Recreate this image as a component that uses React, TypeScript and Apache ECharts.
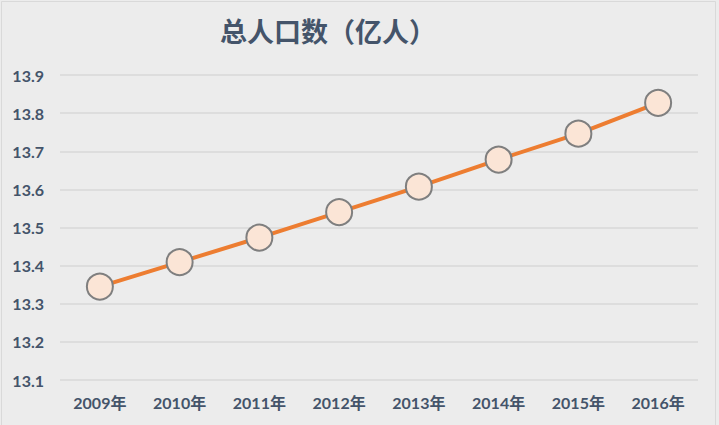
import React, { useEffect, useRef } from "react";
import * as echarts from "echarts";

const years = ["2009年", "2010年", "2011年", "2012年", "2013年", "2014年", "2015年", "2016年"];
const population = [13.345, 13.4091, 13.4735, 13.5404, 13.6072, 13.6782, 13.7462, 13.8271];
const titleText = "总人口数（亿人）";

export default function App() {
  const ref = useRef<HTMLDivElement>(null);
  useEffect(() => {
    if (!ref.current) return;
    const chart = echarts.init(ref.current, null, { renderer: "svg" });
    const labelColor = "#44546a";
    chart.setOption({
      animation: false,
      backgroundColor: "#ececec",
      title: {
        text: titleText,
        left: 215,
        top: 13,
        textStyle: {
          fontFamily: "Lato, 'Noto Sans CJK SC', sans-serif",
          fontSize: 27,
          fontWeight: "bold",
          color: labelColor,
        },
      },
      graphic: [
        {
          type: "rect",
          shape: { x: 1.5, y: 1.5, width: 714, height: 430 },
          style: { fill: "none", stroke: "#d9d9d9", lineWidth: 1 },
          silent: true,
        },
      ],
      grid: { left: 60, right: 21, top: 75, bottom: 45, containLabel: false },
      xAxis: {
        type: "category",
        data: years,
        boundaryGap: true,
        axisLine: { show: false },
        axisTick: { show: false },
        axisLabel: {
          color: labelColor,
          fontFamily: "Lato, 'Noto Sans CJK SC', sans-serif",
          fontSize: 16,
          fontWeight: "bold",
          margin: 14,
        },
      },
      yAxis: {
        type: "value",
        min: 13.1,
        max: 13.9,
        interval: 0.1,
        axisLine: { show: false },
        axisTick: { show: false },
        splitLine: { lineStyle: { color: "#d9d9d9", width: 1.5 } },
        axisLabel: {
          color: labelColor,
          fontFamily: "Lato, sans-serif",
          fontSize: 16,
          fontWeight: "bold",
          margin: 16,
          formatter: (v: number) => v.toFixed(1),
        },
      },
      series: [
        {
          type: "line",
          data: population,
          symbol: "circle",
          symbolSize: 26,
          lineStyle: { color: "#ed7d31", width: 4 },
          itemStyle: { color: "#fbe5d6", borderColor: "#7f7f7f", borderWidth: 2 },
        },
      ],
    });
    return () => chart.dispose();
  }, []);
  return <div ref={ref} style={{ position: "fixed", left: 0, top: 0, width: 719, height: 425 }} />;
}
